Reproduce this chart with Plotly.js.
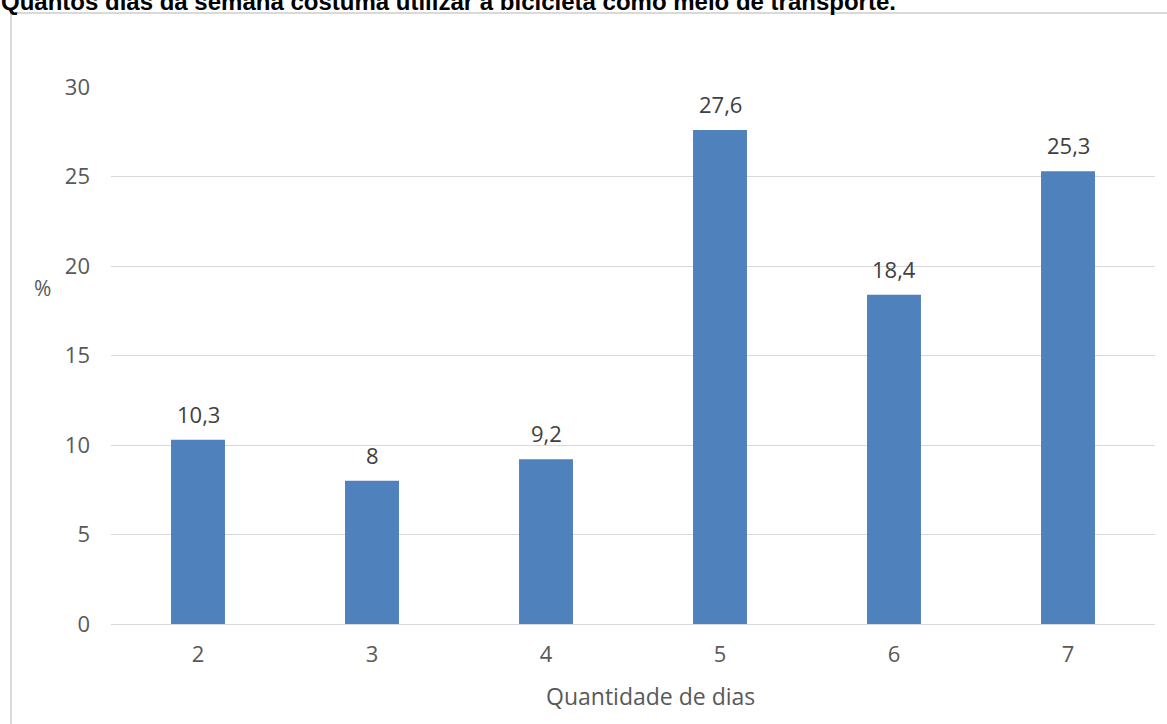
<!DOCTYPE html>
<html>
<head>
<meta charset="utf-8">
<script src="https://cdn.plot.ly/plotly-3.0.1.min.js"></script>
<style>
html,body{margin:0;padding:0;background:#fff;}
#wrap{position:relative;width:1167px;height:724px;overflow:hidden;}
#frame{position:absolute;left:10px;top:12px;width:1200px;height:800px;border-left:2px solid #d9d9d9;border-top:2px solid #d9d9d9;}
#chart{position:absolute;left:0;top:0;width:1167px;height:724px;}
</style>
</head>
<body>
<div id="wrap"><div id="frame"></div><div id="chart"></div></div>
<script>
const categories = ['2','3','4','5','6','7'];
const values = [10.3, 8, 9.2, 27.6, 18.4, 25.3];
const valueLabels = ['10,3','8','9,2','27,6','18,4','25,3'];
const yTicks = [0,5,10,15,20,25,30];
const chartTitle = 'Quantos dias da semana costuma utilizar a bicicleta como meio de transporte.';
const xTitle = 'Quantidade de dias';
const yTitle = '%';

const L = 111, R = 12, T = 87, B = 100, W = 1167, H = 724;
const pw = W - L - R, ph = H - T - B;

// category axis: annotations address categories by their index
const labelAnns = categories.map((c, i) => ({
  x: i, y: values[i], xref: 'x', yref: 'y', text: valueLabels[i],
  showarrow: false, xanchor: 'center', yanchor: 'middle', yshift: 26,
  font: {family: 'Open Sans', size: 22, color: '#404040'}
}));

Plotly.newPlot('chart', [{
  type: 'bar',
  x: categories,
  y: values,
  marker: {color: '#4f81bd'},
  hoverinfo: 'none'
}], {
  width: W, height: H, autosize: false,
  margin: {l: L, r: R, t: T, b: B, pad: 0},
  paper_bgcolor: 'rgba(0,0,0,0)',
  plot_bgcolor: 'rgba(0,0,0,0)',
  showlegend: false,
  bargap: 0.69,
  font: {family: 'Open Sans', color: '#595959'},
  xaxis: {
    type: 'category', categoryorder: 'array', categoryarray: categories,
    range: [-0.5, categories.length - 0.5],
    showgrid: false, zeroline: false, showline: false,
    ticks: '', tickfont: {family: 'Open Sans', size: 22, color: '#595959'},
    ticklabelstandoff: 15
  },
  yaxis: {
    range: [0, 30], tickvals: yTicks, ticktext: yTicks.map(String),
    showgrid: true, gridcolor: '#d9d9d9', gridwidth: 1,
    zeroline: true, zerolinecolor: '#d9d9d9', zerolinewidth: 1,
    showline: false, ticks: '',
    tickfont: {family: 'Open Sans', size: 22, color: '#595959'},
    ticklabelstandoff: 20
  },
  annotations: labelAnns.concat([
    {text: '<b>' + chartTitle + '</b>', xref: 'paper', yref: 'paper',
     x: (-1 - L) / pw, y: (H - B - 1) / ph, xanchor: 'left', yanchor: 'middle',
     showarrow: false, font: {family: 'Liberation Sans, Arial', size: 24, color: '#000'}},
    {text: xTitle, xref: 'paper', yref: 'paper',
     x: (650 - L) / pw, y: (H - B - 696) / ph, xanchor: 'center', yanchor: 'middle',
     showarrow: false, font: {family: 'Open Sans', size: 23, color: '#595959'}},
    {text: yTitle, xref: 'paper', yref: 'paper',
     x: (42 - L) / pw, y: (H - B - 288) / ph, xanchor: 'center', yanchor: 'middle',
     showarrow: false, font: {family: 'Open Sans', size: 21, color: '#595959'}}
  ])
}, {staticPlot: true});
</script>
</body>
</html>
